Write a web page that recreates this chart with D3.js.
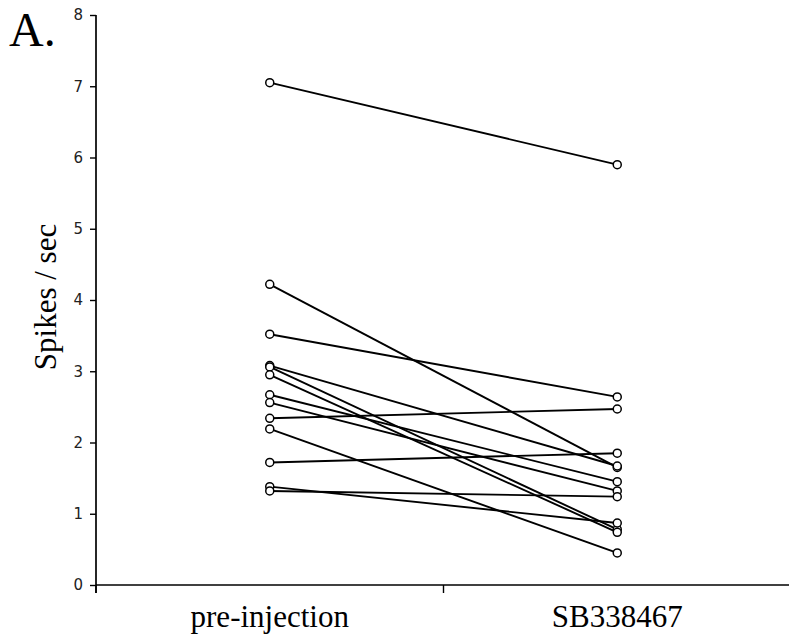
<!DOCTYPE html>
<html>
<head>
<meta charset="utf-8">
<script src="https://cdn.jsdelivr.net/npm/d3@7"></script>
<style>
  body { margin: 0; background: #fff; }
</style>
</head>
<body>
<svg id="chart" width="789" height="643"></svg>
<script>
// conditions on the x axis
var categories = ["pre-injection", "SB338467"];
// firing rate per neuron, before and after injection
var preValues  = [7.05, 4.22, 3.52, 3.08, 3.06, 2.95, 2.67, 2.56, 2.34, 2.19, 1.72, 1.38, 1.32];
var postValues = [5.90, 1.65, 2.64, 1.67, 0.78, 0.74, 1.45, 1.32, 2.47, 0.45, 1.85, 0.87, 1.24];
var yTicks = [0, 1, 2, 3, 4, 5, 6, 7, 8];

var svg = d3.select("#chart"),
    margin = {top: 15, left: 96, right: 0, bottom: 58},
    width = +svg.attr("width"),
    height = +svg.attr("height");

var x = d3.scaleBand().domain(categories).range([margin.left, 791]).padding(0);
var y = d3.scaleLinear().domain([0, 8]).range([height - margin.bottom, margin.top]);

var y0 = y(0);

// y axis
var yAxis = svg.append("g")
  .attr("transform", "translate(" + margin.left + ",0)")
  .call(d3.axisLeft(y).tickValues(yTicks).tickSize(6).tickPadding(7).tickFormat(d3.format("d")));
yAxis.select(".domain").attr("d", "M0," + margin.top + "V" + (y0 + 8)).attr("stroke-width", 1.7);
yAxis.selectAll(".tick line").attr("stroke-width", 1.4);
yAxis.selectAll(".tick text")
  .attr("font-family", "DejaVu Sans, Verdana, sans-serif")
  .attr("font-size", 15)
  .attr("fill", "#222");

// x axis
var xg = svg.append("g");
xg.append("line")
  .attr("x1", margin.left).attr("x2", width)
  .attr("y1", y0).attr("y2", y0)
  .attr("stroke", "#000").attr("stroke-width", 1.7);
xg.selectAll(".xtick")
  .data(categories)
  .enter().append("line")
  .attr("class", "xtick")
  .attr("x1", function(d) { return x(d); })
  .attr("x2", function(d) { return x(d); })
  .attr("y1", y0).attr("y2", y0 + 8)
  .attr("stroke", "#000").attr("stroke-width", 1.4);
xg.selectAll(".xlabel")
  .data(categories)
  .enter().append("text")
  .attr("class", "xlabel")
  .attr("x", function(d) { return x(d) + x.bandwidth() / 2; })
  .attr("y", 627)
  .attr("text-anchor", "middle")
  .attr("font-family", "Liberation Serif, Times New Roman, serif")
  .attr("font-size", 31)
  .text(function(d) { return d; });

// y label
svg.append("text")
  .attr("transform", "translate(56,297) rotate(-90)")
  .attr("text-anchor", "middle")
  .attr("font-family", "Liberation Serif, Times New Roman, serif")
  .attr("font-size", 31)
  .text("Spikes / sec");

// panel letter
svg.append("text")
  .attr("x", 9).attr("y", 46)
  .attr("font-family", "Liberation Serif, Times New Roman, serif")
  .attr("font-size", 48)
  .text("A.");

var data = preValues.map(function(v, i) { return {pre: v, post: postValues[i]}; });
var cx0 = x(categories[0]) + x.bandwidth() / 2,
    cx1 = x(categories[1]) + x.bandwidth() / 2;

svg.selectAll(".pair")
  .data(data)
  .enter().append("line")
  .attr("class", "pair")
  .attr("x1", cx0).attr("x2", cx1)
  .attr("y1", function(d) { return y(d.pre); })
  .attr("y2", function(d) { return y(d.post); })
  .attr("stroke", "#000").attr("stroke-width", 1.9);

var pts = [];
data.forEach(function(d) {
  pts.push({cx: cx0, v: d.pre});
  pts.push({cx: cx1, v: d.post});
});
svg.selectAll(".pt")
  .data(pts)
  .enter().append("circle")
  .attr("class", "pt")
  .attr("cx", function(d) { return d.cx; })
  .attr("cy", function(d) { return y(d.v); })
  .attr("r", 4)
  .attr("fill", "#fff")
  .attr("stroke", "#000").attr("stroke-width", 1.5);
</script>
</body>
</html>
